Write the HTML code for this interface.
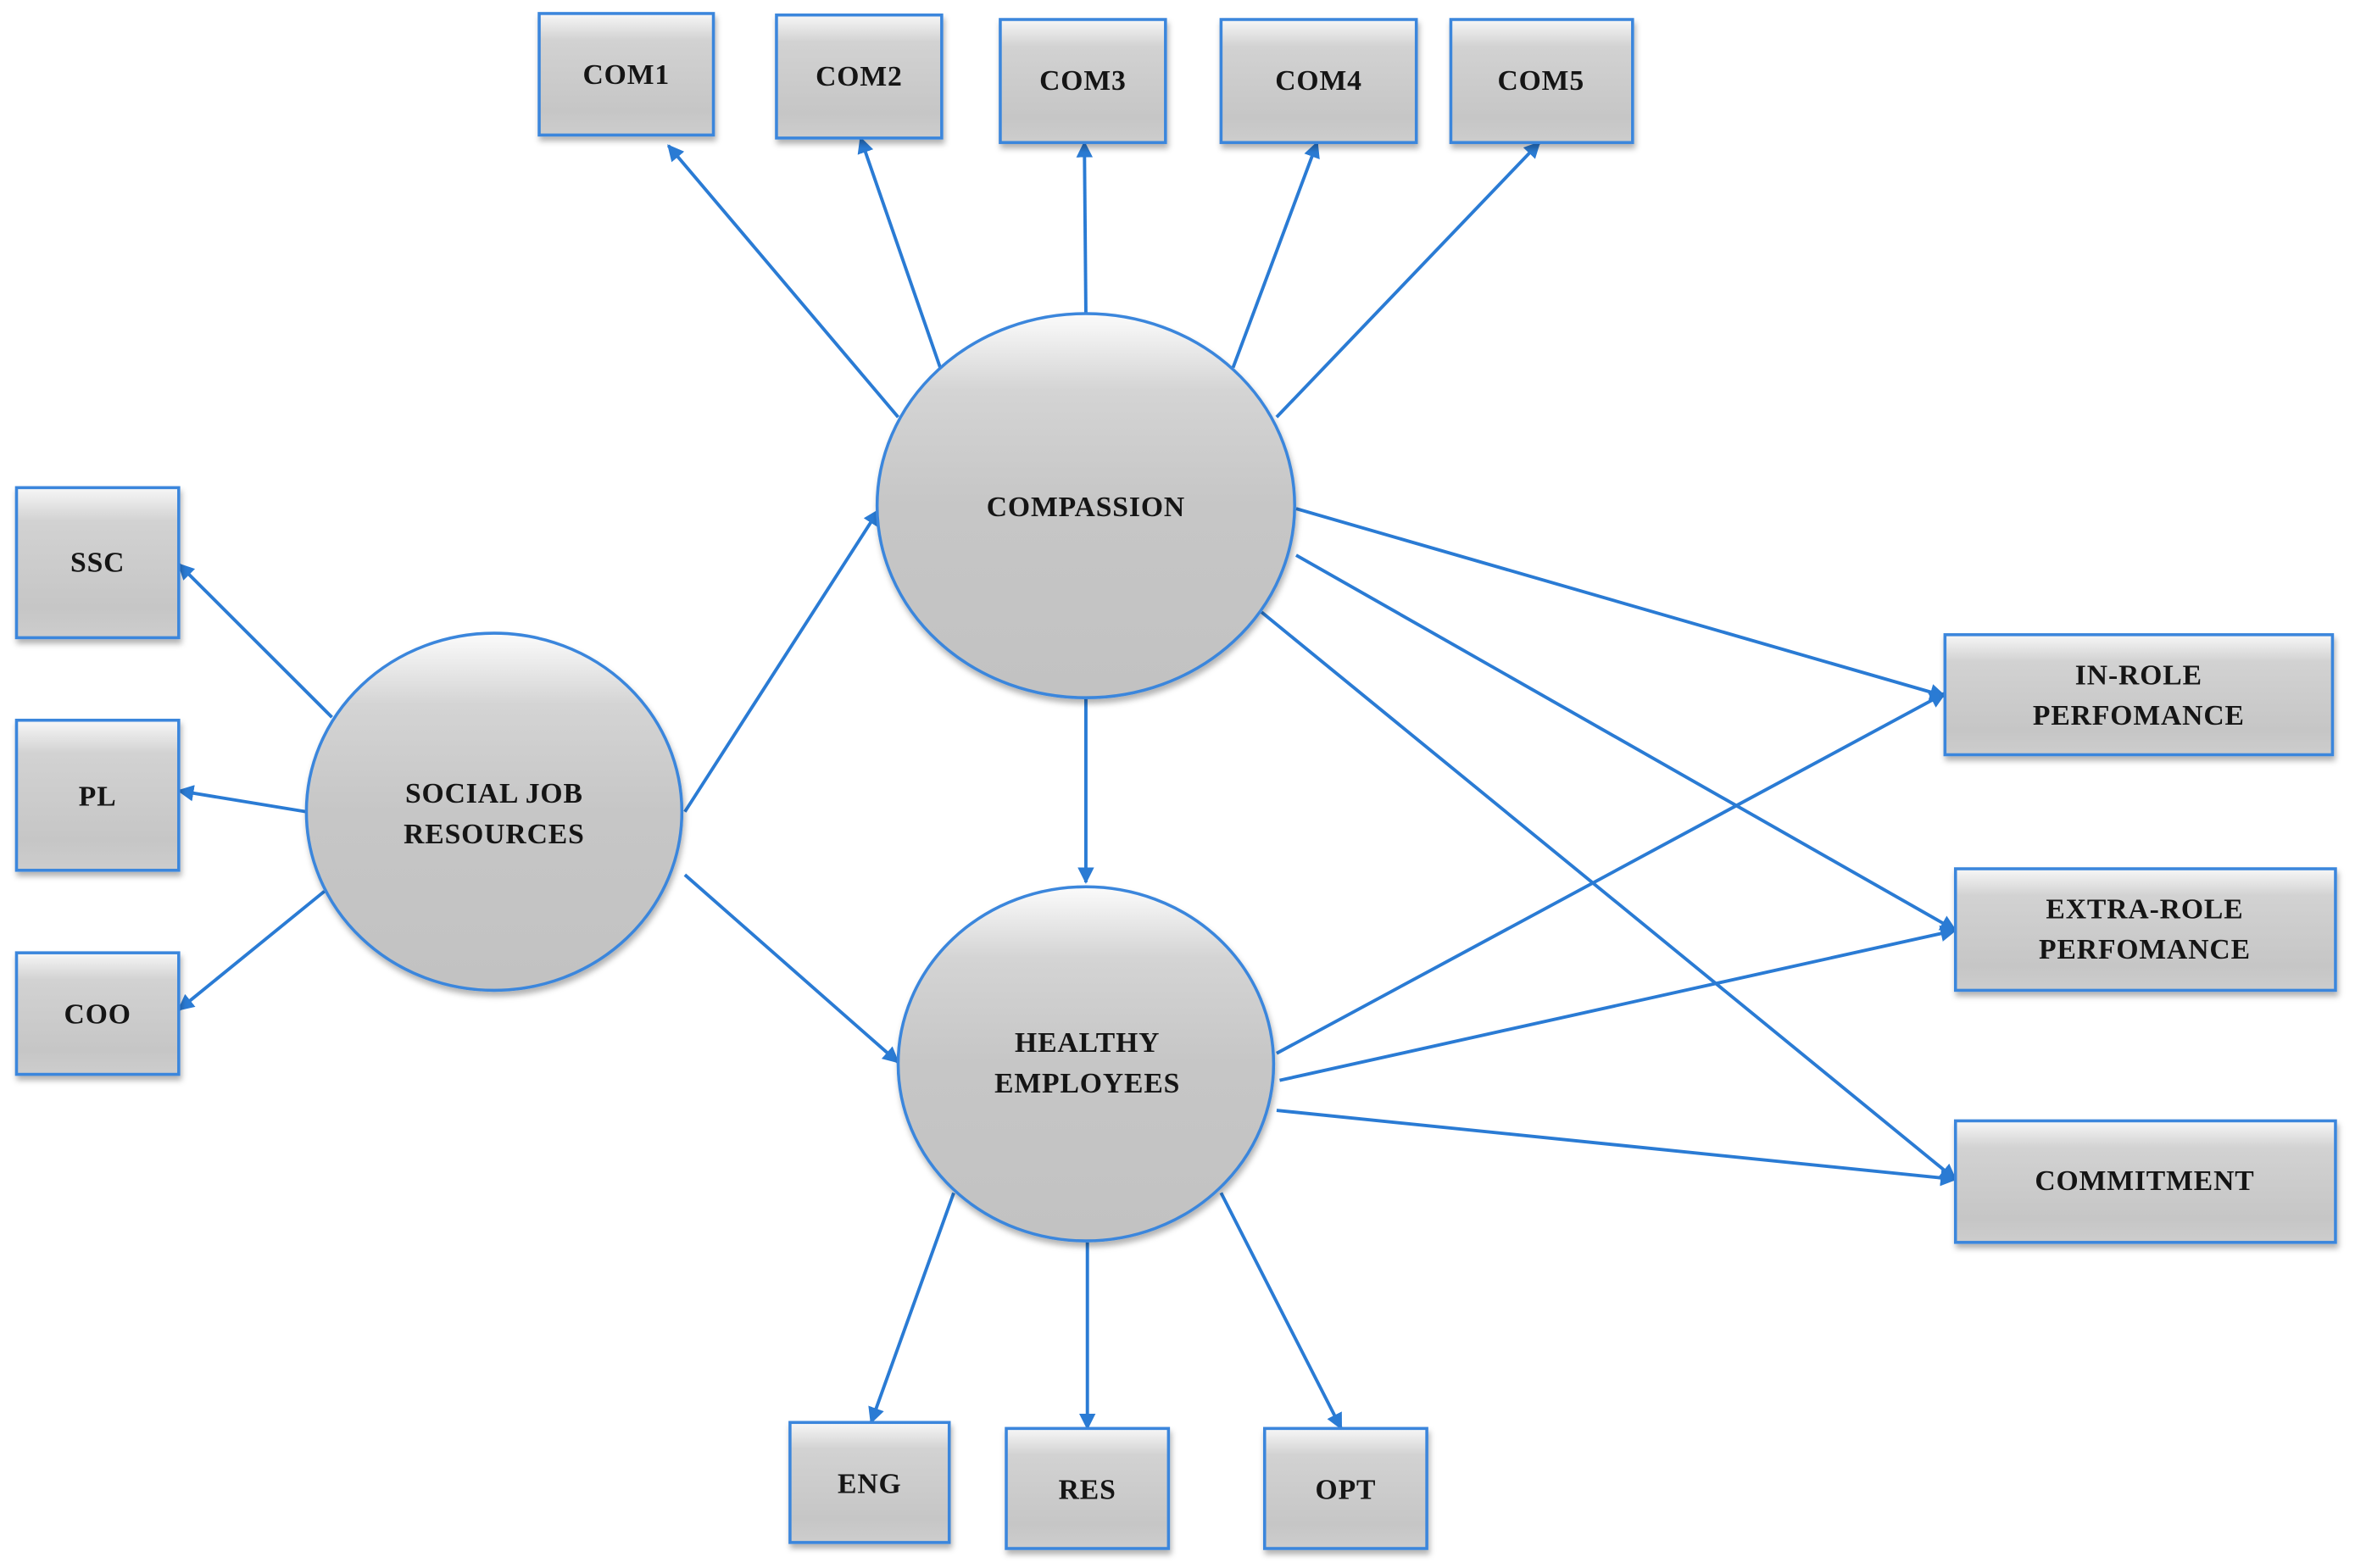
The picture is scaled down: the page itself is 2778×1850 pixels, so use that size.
<!DOCTYPE html>
<html><head><meta charset="utf-8"><style>
html,body{margin:0;padding:0;background:#fff;}
svg{display:block;}
text{font-family:"Liberation Serif",serif;font-weight:bold;fill:#151515;text-anchor:middle;font-size:19px;letter-spacing:0.5px;}
</style></head><body>
<svg width="2778" height="1850" viewBox="0 0 1568 1045" preserveAspectRatio="none" xmlns="http://www.w3.org/2000/svg">
<defs>
<linearGradient id="bg" x1="0" y1="0" x2="0" y2="1">
<stop offset="0" stop-color="#f7f7f7"/><stop offset="0.22" stop-color="#d2d2d2"/><stop offset="0.8" stop-color="#c6c6c6"/><stop offset="1" stop-color="#cdcdcd"/></linearGradient>
<linearGradient id="cg" x1="0" y1="0" x2="0" y2="1">
<stop offset="0" stop-color="#fbfbfb"/><stop offset="0.2" stop-color="#d4d4d4"/><stop offset="0.5" stop-color="#c6c6c6"/><stop offset="1" stop-color="#c2c2c2"/></linearGradient>
<filter id="sh" x="-10%" y="-10%" width="130%" height="130%"><feDropShadow dx="1" dy="3" stdDeviation="2" flood-color="#000" flood-opacity="0.3"/></filter>
<marker id="ar" viewBox="0 0 10 10" refX="9" refY="5" markerWidth="5" markerHeight="5" orient="auto"><path d="M0,0L10,5L0,10z" fill="#2a7bd4"/></marker>
</defs>
<g stroke="#2a7bd4" stroke-width="2.2" fill="none" marker-end="url(#ar)">
<line x1="598" y1="278" x2="445" y2="97"/>
<line x1="626" y1="245" x2="573" y2="92"/>
<line x1="723" y1="209" x2="722" y2="95"/>
<line x1="821" y1="245" x2="877" y2="95"/>
<line x1="850" y1="278" x2="1025" y2="95"/>
<line x1="221" y1="478" x2="119" y2="376"/>
<line x1="204" y1="541" x2="119" y2="527"/>
<line x1="216" y1="594" x2="119" y2="673"/>
<line x1="456" y1="541" x2="585" y2="340"/>
<line x1="456" y1="583" x2="598" y2="708"/>
<line x1="723" y1="466" x2="723" y2="588"/>
<line x1="863" y1="339" x2="1295" y2="464"/>
<line x1="863" y1="370" x2="1302" y2="620"/>
<line x1="840" y1="408" x2="1302" y2="786"/>
<line x1="850" y1="702" x2="1295" y2="462"/>
<line x1="852" y1="720" x2="1302" y2="620"/>
<line x1="850" y1="740" x2="1302" y2="786"/>
<line x1="635" y1="795" x2="580" y2="948"/>
<line x1="724" y1="828" x2="724" y2="952"/>
<line x1="813" y1="795" x2="893" y2="952"/>
</g>
<g fill="url(#bg)" stroke="#3a86dc" stroke-width="2" filter="url(#sh)">
<rect x="359" y="9" width="116" height="81"/>
<rect x="517" y="10" width="110" height="82"/>
<rect x="666" y="13" width="110" height="82"/>
<rect x="813" y="13" width="130" height="82"/>
<rect x="966" y="13" width="121" height="82"/>
<rect x="11" y="325" width="108" height="100"/>
<rect x="11" y="480" width="108" height="100"/>
<rect x="11" y="635" width="108" height="81"/>
<rect x="1295" y="423" width="258" height="80"/>
<rect x="1302" y="579" width="253" height="81"/>
<rect x="1302" y="747" width="253" height="81"/>
<rect x="526" y="948" width="106" height="80"/>
<rect x="670" y="952" width="108" height="80"/>
<rect x="842" y="952" width="108" height="80"/>
</g>
<g fill="url(#cg)" stroke="#3a86dc" stroke-width="2" filter="url(#sh)">
<ellipse cx="723" cy="337" rx="139" ry="128"/>
<ellipse cx="329" cy="541" rx="125" ry="119"/>
<ellipse cx="723" cy="709" rx="125" ry="118"/>
</g>
<text x="417" y="56">COM1</text>
<text x="572" y="57">COM2</text>
<text x="721" y="60">COM3</text>
<text x="878" y="60">COM4</text>
<text x="1026" y="60">COM5</text>
<text x="65" y="381">SSC</text>
<text x="65" y="537">PL</text>
<text x="65" y="682">COO</text>
<text x="1424" y="456">IN-ROLE</text>
<text x="1424" y="483">PERFOMANCE</text>
<text x="1428" y="612">EXTRA-ROLE</text>
<text x="1428" y="639">PERFOMANCE</text>
<text x="1428" y="793">COMMITMENT</text>
<text x="579" y="995">ENG</text>
<text x="724" y="999">RES</text>
<text x="896" y="999">OPT</text>
<text x="723" y="344">COMPASSION</text>
<text x="329" y="535">SOCIAL JOB</text>
<text x="329" y="562">RESOURCES</text>
<text x="724" y="701">HEALTHY</text>
<text x="724" y="728">EMPLOYEES</text>
</svg>
</body></html>
